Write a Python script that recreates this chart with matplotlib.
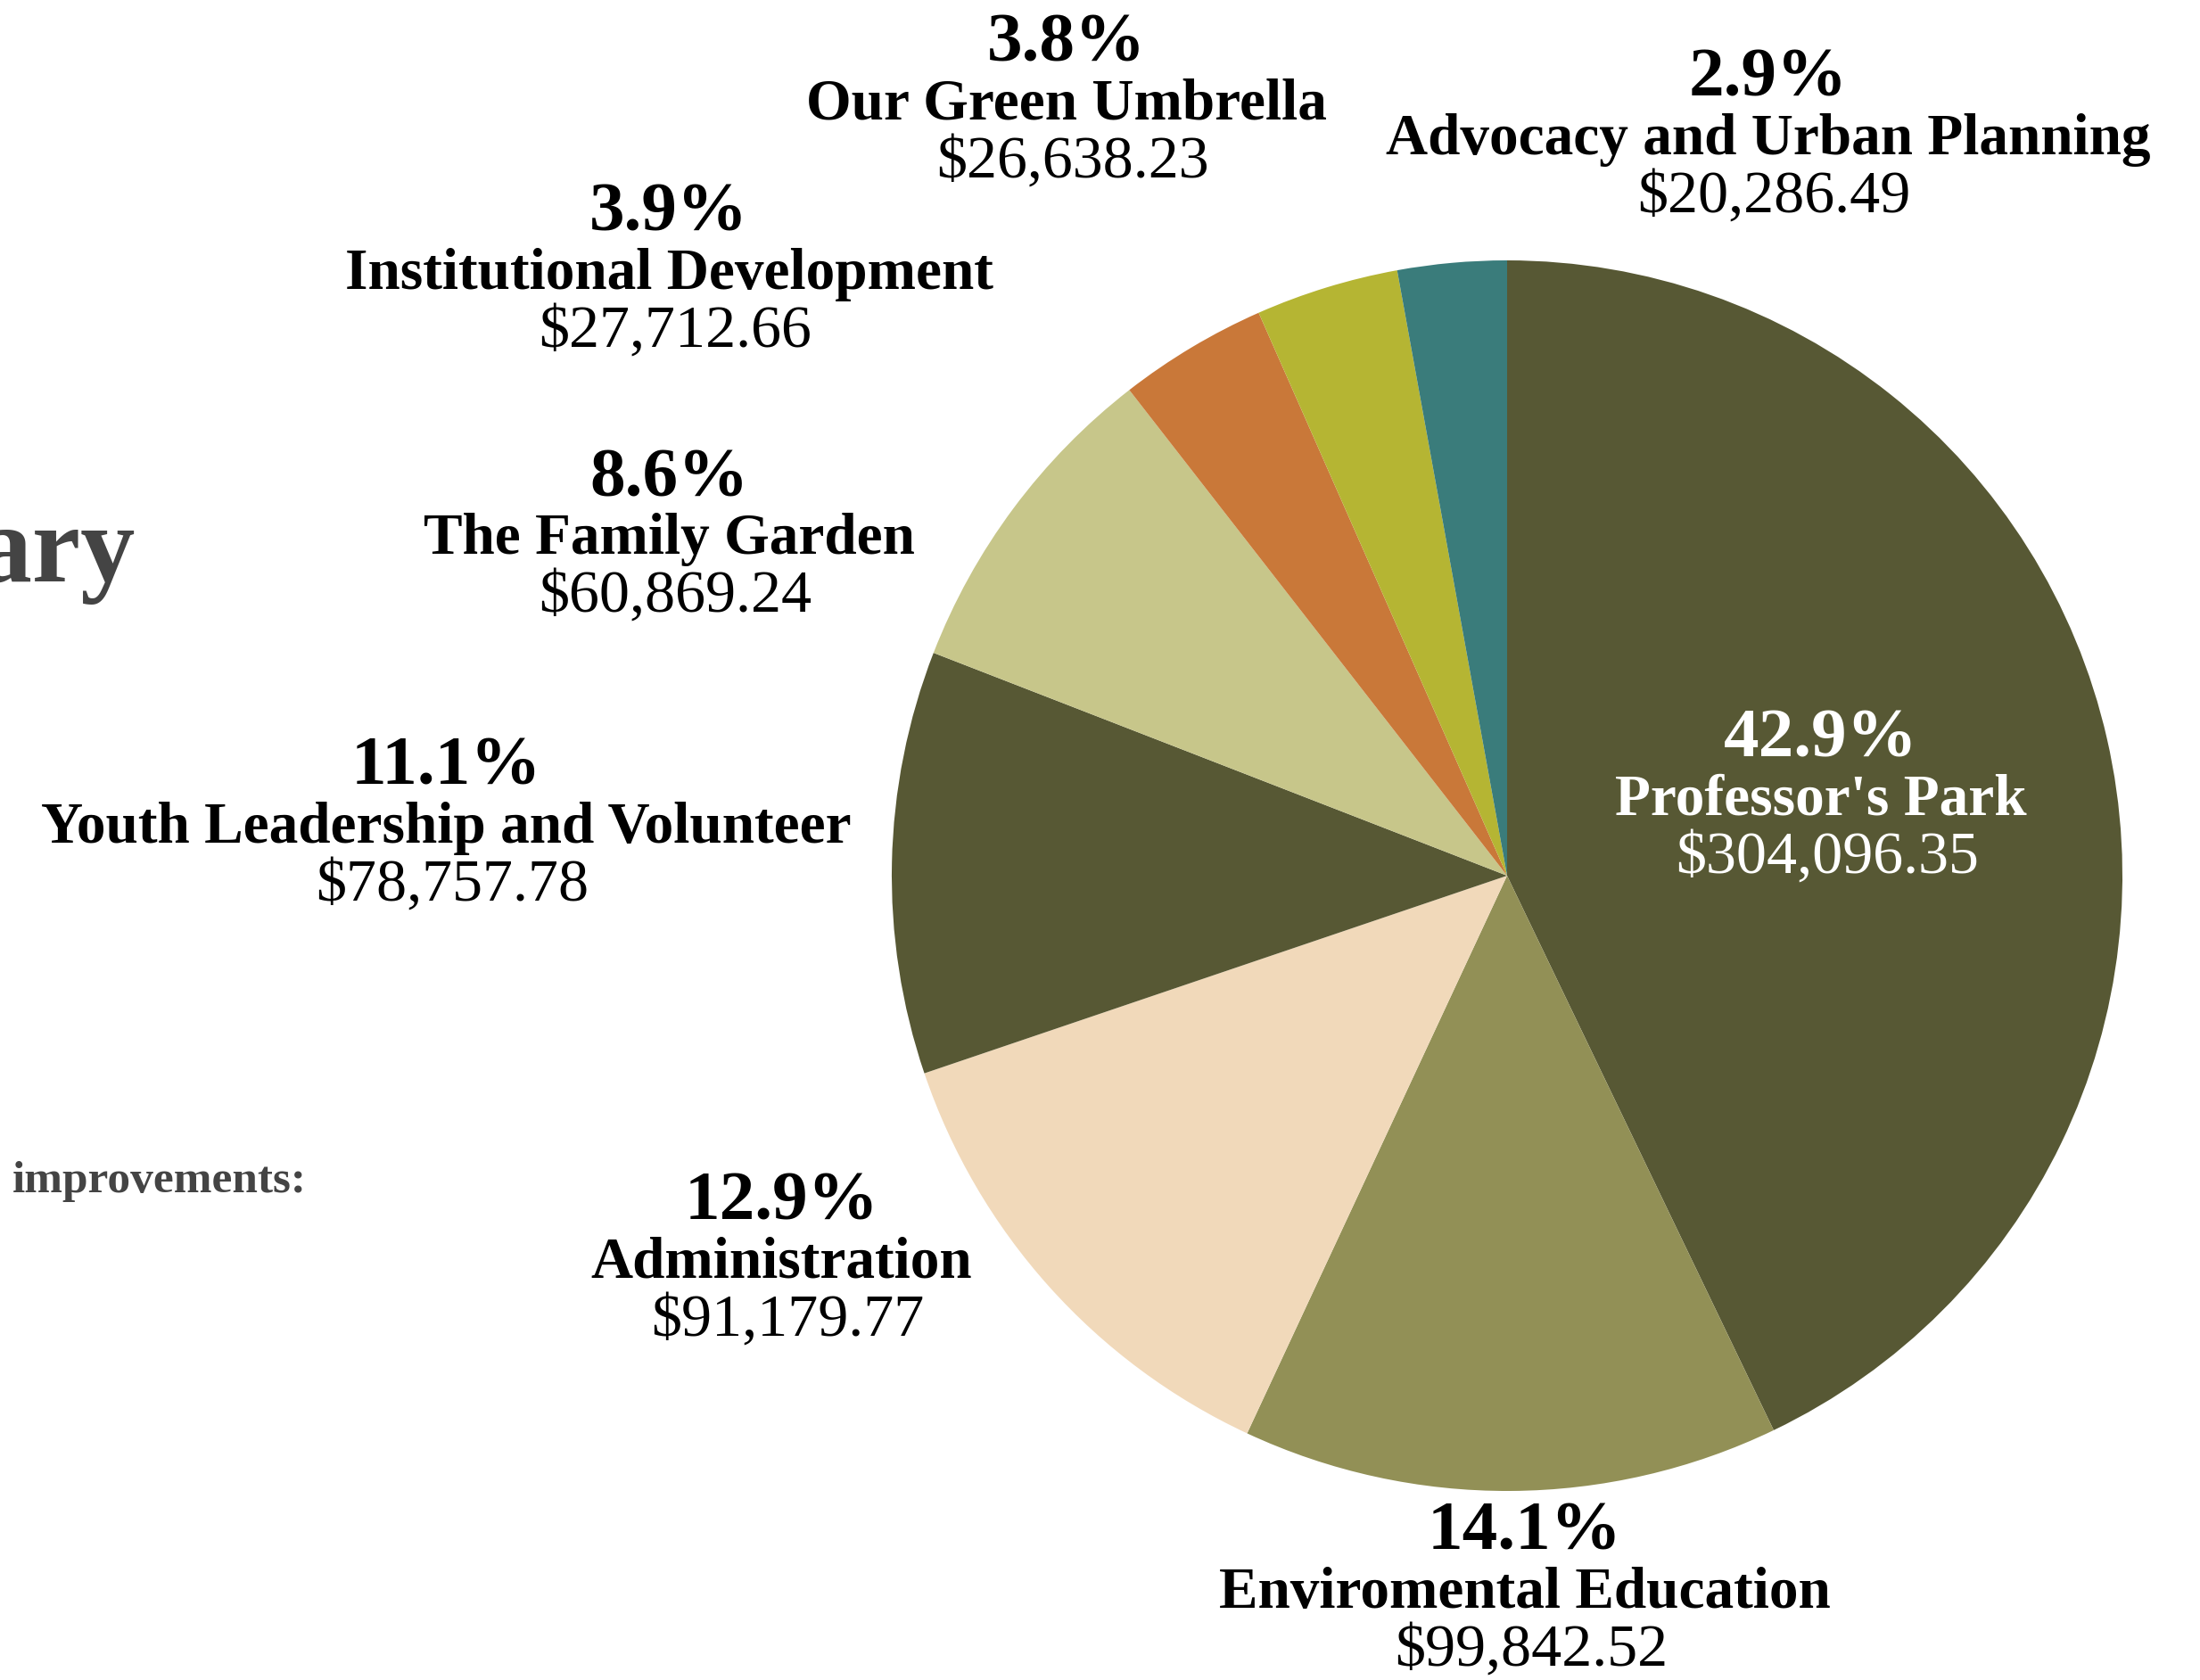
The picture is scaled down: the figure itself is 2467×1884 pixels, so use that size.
import matplotlib.pyplot as plt

# Program budget breakdown
programs = [
    "Professor's Park",
    "Enviromental Education",
    "Administration",
    "Youth Leadership and Volunteer",
    "The Family Garden",
    "Institutional Development",
    "Our Green Umbrella",
    "Advocacy and Urban Planning",
]
amounts = [304096.35, 99842.52, 91179.77, 78757.78, 60869.24, 27712.66, 26638.23, 20286.49]
colors = ['#575834', '#929056', '#f1d9ba', '#575834', '#c7c68a', '#c97839', '#b5b533', '#3a7c7b']

# label anchor (centre of the name line) in pie data units, radius = 1
label_pos = [(0.51, 0.122), (0.029, -1.166), (-1.179, -0.630), (-1.724, 0.077),
             (-1.362, 0.546), (-1.362, 0.977), (-0.716, 1.253), (0.424, 1.196)]
label_color = ['white'] + ['black'] * 7

W, H = 2467, 1884
fig = plt.figure(figsize=(W / 100, H / 100), dpi=100)
fig.patch.set_facecolor('white')

cx, cy, r = 1690, 982, 690
ax = fig.add_axes([(cx - r) / W, (H - cy - r) / H, 2 * r / W, 2 * r / H])
ax.pie(amounts, colors=colors, startangle=90, counterclock=False,
       wedgeprops=dict(linewidth=0))
ax.set_xlim(-1, 1)
ax.set_ylim(-1, 1)
ax.set_aspect('equal')
ax.axis('off')

serif = ['Liberation Serif', 'DejaVu Serif']
total = sum(amounts)
for name, amt, (x, y), c in zip(programs, amounts, label_pos, label_color):
    pct = amt / total * 100
    ax.text(x, y + 0.098, f"{pct:.1f}%", ha='center', va='center', fontsize=57,
            fontweight='bold', color=c, family=serif, clip_on=False)
    ax.text(x, y, name, ha='center', va='center', fontsize=47,
            fontweight='bold', color=c, family=serif, clip_on=False)
    ax.text(x + 0.01, y - 0.093, f"${amt:,.2f}", ha='center', va='center', fontsize=49,
            color=c, family=serif, clip_on=False)

# page fragments from the surrounding report layout, cut by the left edge
fig.text(152 / W, 1 - 652 / H, "Summary", ha='right', va='baseline', fontsize=88,
         fontweight='bold', color='#444444', family=serif)
fig.text(344 / W, 1 - 1337 / H, "improvements:", ha='right', va='baseline', fontsize=37,
         fontweight='bold', color='#444444', family=serif)

fig.savefig('out.png', dpi=100, facecolor='white')
